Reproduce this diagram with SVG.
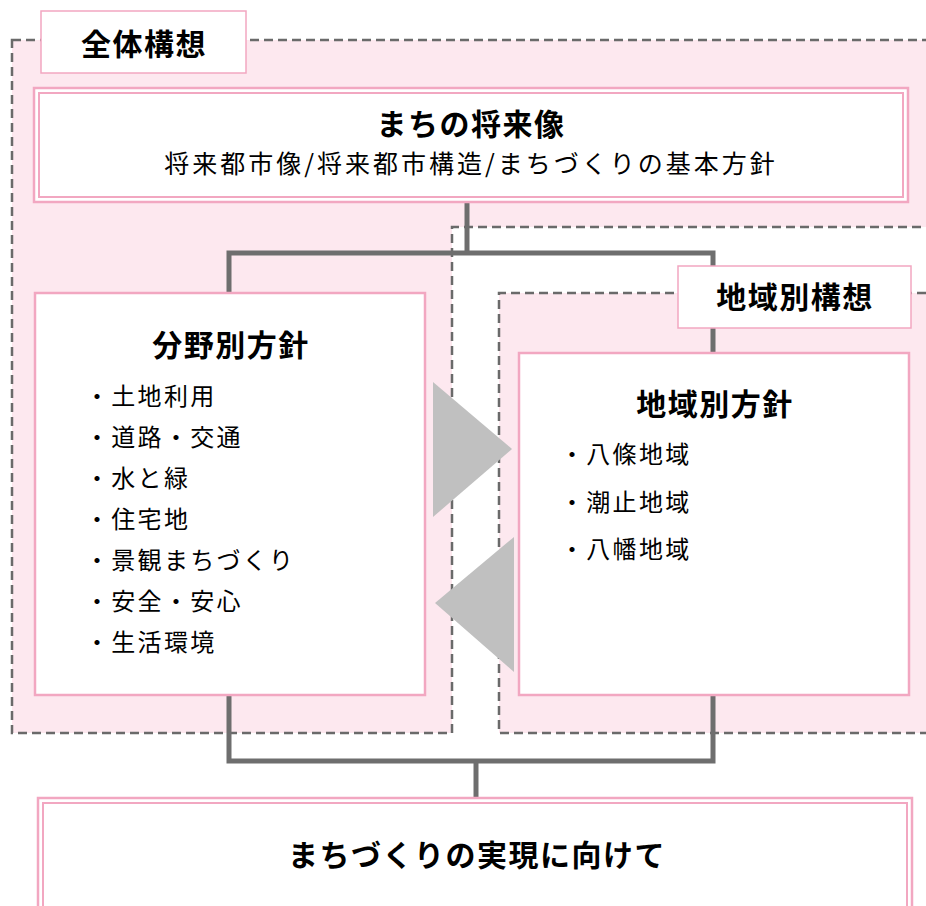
<svg xmlns="http://www.w3.org/2000/svg" width="926" height="906" viewBox="0 0 926 906">
<style>
.region{fill:#fde8ef;stroke:#6a6a6a;stroke-width:2.5;stroke-dasharray:9 5}
.box{fill:#ffffff;stroke:#f2a7c1;stroke-width:2.5}
.inner{fill:none;stroke:#f2a7c1;stroke-width:2}
.label{fill:#ffffff;stroke:#f2a7c1;stroke-width:1.5}
.conn{fill:none;stroke:#6e6e6e;stroke-width:5}
.tri{fill:#c0c0c0}
text{font-family:"Noto Sans CJK JP","Noto Sans",sans-serif;fill:#000}
.h{font-size:30px;font-weight:bold;letter-spacing:1.5px;text-anchor:middle}
.sub{font-size:25px;letter-spacing:3px;text-anchor:middle}
.item{font-size:24px;letter-spacing:2.3px}
</style>
<g id="zentai-region">
<path class="region" d="M12,40 H940 V227 H452 V733 H12 Z"/>
</g>
<g id="chiiki-region">
<path class="region" d="M940,293 H499 V733 H940"/>
</g>
<g id="connectors">
<path class="conn" d="M467,203 V253"/>
<path class="conn" d="M229,293 V253 H713 V353"/>
<path class="conn" d="M229,695 V761 H713 V695"/>
<path class="conn" d="M476,761 V798"/>
</g>
<g id="zentai-label">
<rect class="label" x="41" y="11" width="205" height="62"/>
<text class="h" x="144" y="55">全体構想</text>
</g>
<g id="shoraizo">
<rect class="box" x="34" y="88" width="874" height="114"/>
<rect class="inner" x="39" y="93" width="864" height="104"/>
<text class="h" x="471" y="135">まちの将来像</text>
<text class="sub" x="471" y="173">将来都市像/将来都市構造/まちづくりの基本方針</text>
</g>
<g id="chiiki-label">
<rect class="label" x="678" y="266" width="233" height="62"/>
<text class="h" x="795" y="308">地域別構想</text>
</g>
<g id="bunya">
<rect class="box" x="35" y="293" width="390" height="402"/>
<text class="h" x="231" y="356">分野別方針</text>
<text class="item" x="85" y="405">・土地利用</text>
<text class="item" x="85" y="446">・道路・交通</text>
<text class="item" x="85" y="487">・水と緑</text>
<text class="item" x="85" y="528">・住宅地</text>
<text class="item" x="85" y="569">・景観まちづくり</text>
<text class="item" x="85" y="610">・安全・安心</text>
<text class="item" x="85" y="651">・生活環境</text>
</g>
<g id="chiiki">
<rect class="box" x="519" y="353" width="390" height="342"/>
<text class="h" x="715" y="415">地域別方針</text>
<text class="item" x="560" y="463">・八條地域</text>
<text class="item" x="560" y="511">・潮止地域</text>
<text class="item" x="560" y="558">・八幡地域</text>
</g>
<g id="arrows">
<polygon class="tri" points="433,382 512,449 433,517"/>
<polygon class="tri" points="514,537 435,603 514,672"/>
</g>
<g id="jitsugen">
<rect class="box" x="38" y="798" width="874" height="130"/>
<rect class="inner" x="43" y="803" width="864" height="120"/>
<text class="h" x="477" y="866">まちづくりの実現に向けて</text>
</g>
</svg>
